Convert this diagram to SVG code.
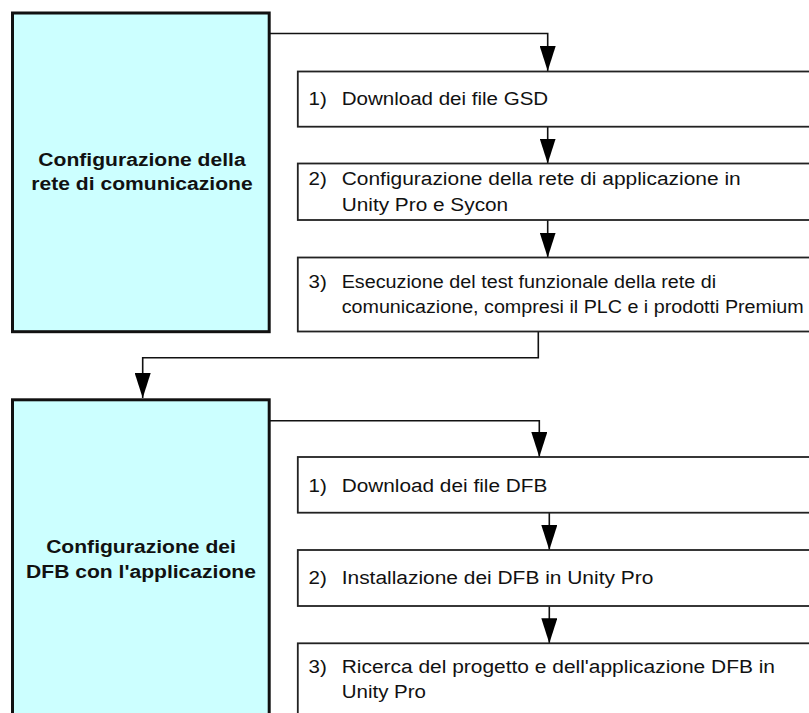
<svg xmlns="http://www.w3.org/2000/svg" width="809" height="713" viewBox="0 0 809 713">
<style>
.title{fill:#ccffff;stroke:#111;stroke-width:3}
.step{fill:#fff;stroke:#222;stroke-width:1.8}
.t{font-family:"Liberation Sans",Arial,sans-serif;font-size:18px;fill:#111}
.tb{font-family:"Liberation Sans",Arial,sans-serif;font-size:18.5px;font-weight:bold;fill:#111;text-anchor:middle}
.c{fill:none;stroke:#111;stroke-width:1.6}
</style>
<defs>
<marker id="ah" viewBox="0 -8 25 16" refX="25" refY="0" markerWidth="25" markerHeight="16" markerUnits="userSpaceOnUse" orient="auto">
<path d="M0,-8 L25,0 L0,8 z" fill="#000"/>
</marker>
</defs>
<rect width="809" height="713" fill="#fff"/>
<g id="connectors">
<path class="c" d="M270,33.5 H547.7 V71" marker-end="url(#ah)"/>
<path class="c" d="M547.7,127 V163.5" marker-end="url(#ah)"/>
<path class="c" d="M547.7,220 V257.5" marker-end="url(#ah)"/>
<path class="c" d="M538.3,332 V357.7 H142.7 V398" marker-end="url(#ah)"/>
<path class="c" d="M270,420.7 H539.3 V457" marker-end="url(#ah)"/>
<path class="c" d="M549.3,513 V550" marker-end="url(#ah)"/>
<path class="c" d="M549.3,606 V643.3" marker-end="url(#ah)"/>
</g>
<g id="nodeA">
<rect class="title" x="12.5" y="13" width="256.7" height="318.7"/>
<text class="tb" transform="translate(142,166) scale(1.14,1)">Configurazione della</text>
<text class="tb" transform="translate(142,190) scale(1.14,1)">rete di comunicazione</text>
</g>
<g id="stepA1">
<rect class="step" x="297.8" y="71.5" width="530" height="55.2"/>
<text class="t" transform="translate(308.5,105) scale(1.14,1)">1)</text>
<text class="t" x="341.7" y="105" textLength="206.5" lengthAdjust="spacingAndGlyphs">Download dei file GSD</text>
</g>
<g id="stepA2">
<rect class="step" x="297.8" y="163.5" width="530" height="56.5"/>
<text class="t" transform="translate(308.5,185) scale(1.14,1)">2)</text>
<text class="t" x="341.7" y="185" textLength="399" lengthAdjust="spacingAndGlyphs">Configurazione della rete di applicazione in</text>
<text class="t" x="341.7" y="210.5" textLength="166.5" lengthAdjust="spacingAndGlyphs">Unity Pro e Sycon</text>
</g>
<g id="stepA3">
<rect class="step" x="297.8" y="257.5" width="530" height="74"/>
<text class="t" transform="translate(308.5,287.5) scale(1.14,1)">3)</text>
<text class="t" x="341.7" y="287.5" textLength="374.5" lengthAdjust="spacingAndGlyphs">Esecuzione del test funzionale della rete di</text>
<text class="t" x="341.7" y="312.5" textLength="462" lengthAdjust="spacingAndGlyphs">comunicazione, compresi il PLC e i prodotti Premium</text>
</g>
<g id="nodeB">
<rect class="title" x="12.5" y="399.8" width="256.7" height="330"/>
<text class="tb" transform="translate(141,553) scale(1.14,1)">Configurazione dei</text>
<text class="tb" transform="translate(141,578) scale(1.14,1)">DFB con l'applicazione</text>
</g>
<g id="stepB1">
<rect class="step" x="297.8" y="457" width="530" height="55.7"/>
<text class="t" transform="translate(308.5,491.7) scale(1.14,1)">1)</text>
<text class="t" x="341.7" y="491.7" textLength="205.6" lengthAdjust="spacingAndGlyphs">Download dei file DFB</text>
</g>
<g id="stepB2">
<rect class="step" x="297.8" y="550" width="530" height="56"/>
<text class="t" transform="translate(308.5,584) scale(1.14,1)">2)</text>
<text class="t" x="341.7" y="584" textLength="311.6" lengthAdjust="spacingAndGlyphs">Installazione dei DFB in Unity Pro</text>
</g>
<g id="stepB3">
<rect class="step" x="297.8" y="643.3" width="530" height="90"/>
<text class="t" transform="translate(308.5,673) scale(1.14,1)">3)</text>
<text class="t" x="341.7" y="673" textLength="433.3" lengthAdjust="spacingAndGlyphs">Ricerca del progetto e dell'applicazione DFB in</text>
<text class="t" x="341.7" y="698" textLength="84.3" lengthAdjust="spacingAndGlyphs">Unity Pro</text>
</g>
</svg>
